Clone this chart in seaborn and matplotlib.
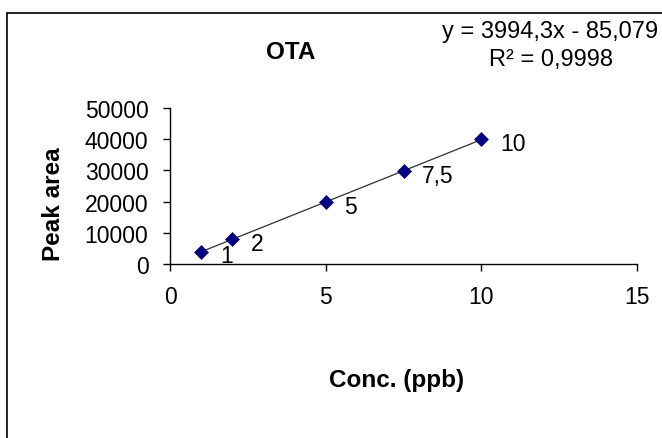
import matplotlib
matplotlib.use("Agg")
import matplotlib.pyplot as plt
import seaborn as sns
import pandas as pd
import numpy as np
from matplotlib.lines import Line2D

# Calibration data
conc = [1, 2, 5, 7.5, 10]
peak_area = [3950, 8050, 19800, 29750, 39950]
point_labels = ["1", "2", "5", "7,5", "10"]

# Linear fit reported on the chart
slope = 3994.3
intercept = -85.079
r_squared = 0.9998

x_ticks = [0, 5, 10, 15]
y_ticks = [0, 10000, 20000, 30000, 40000, 50000]

sns.set_style("ticks")
plt.rcParams["font.family"] = ["Liberation Sans", "DejaVu Sans"]
plt.rcParams["text.color"] = "black"

W, H = 662, 439
fig = plt.figure(figsize=(W / 100, H / 100), dpi=100)
fig.patch.set_facecolor("white")
ax = fig.add_axes([170 / W, 1 - 265 / H, (637 - 170) / W, (265 - 109) / H])

df = pd.DataFrame({"conc": conc, "area": peak_area})

# Trendline from the reported equation
xl = np.array([min(conc), max(conc)])
ax.plot(xl, slope * xl + intercept, color="#303030", lw=0.9, zorder=2)

sns.scatterplot(data=df, x="conc", y="area", marker="D", s=50,
                color="#000080", edgecolor="#000080", linewidth=0.5,
                ax=ax, zorder=3, legend=False)

label_size = 16.5
for xv, yv, lab in zip(conc, peak_area, point_labels):
    ax.annotate(lab, (xv, yv), xytext=(13.5, -3), textcoords="offset points",
                ha="left", va="center", fontsize=label_size, color="black")

ax.set_xlim(0, 15)
ax.set_ylim(0, 50000)
ax.set_xticks(x_ticks)
ax.set_yticks(y_ticks)
ax.set_xticklabels([str(v) for v in x_ticks])
ax.set_yticklabels([str(v) for v in y_ticks])
ax.tick_params(axis="both", direction="out", length=5, width=1, color="black",
               labelsize=label_size, labelcolor="black")
ax.tick_params(axis="y", pad=10.5)
ax.tick_params(axis="x", pad=10)
for side in ["top", "right"]:
    ax.spines[side].set_visible(False)
for side in ["left", "bottom"]:
    ax.spines[side].set_color("black")
    ax.spines[side].set_linewidth(1)
ax.set_xlabel("")
ax.set_ylabel("")
ax.set_facecolor("white")

# Titles and labels
bold_size = 17.5
fig.text(291 / W, 1 - 52.5 / H, "OTA", ha="center", va="center",
         fontsize=bold_size, fontweight="bold", color="black")
fig.text(397 / W, 1 - 381 / H, "Conc. (ppb)", ha="center", va="center",
         fontsize=bold_size, fontweight="bold", color="black")
fig.text(53.5 / W, 1 - 204.5 / H, "Peak area", ha="center", va="center",
         rotation=90, fontsize=bold_size, fontweight="bold", color="black")
fig.text(550 / W, 1 - 32 / H, "y = 3994,3x - 85,079", ha="center", va="center",
         fontsize=17, color="black")
fig.text(551 / W, 1 - 60 / H, "R² = 0,9998", ha="center", va="center",
         fontsize=17, color="black")

# Chart area frame
fig.add_artist(Line2D([7 / W, 1.0], [1 - 14 / H, 1 - 14 / H], color="black",
                      lw=1.2, transform=fig.transFigure))
fig.add_artist(Line2D([7 / W, 7 / W], [1 - 14 / H, 0.0], color="black",
                      lw=1.2, transform=fig.transFigure))

fig.savefig("out.png", dpi=100, facecolor="white")
